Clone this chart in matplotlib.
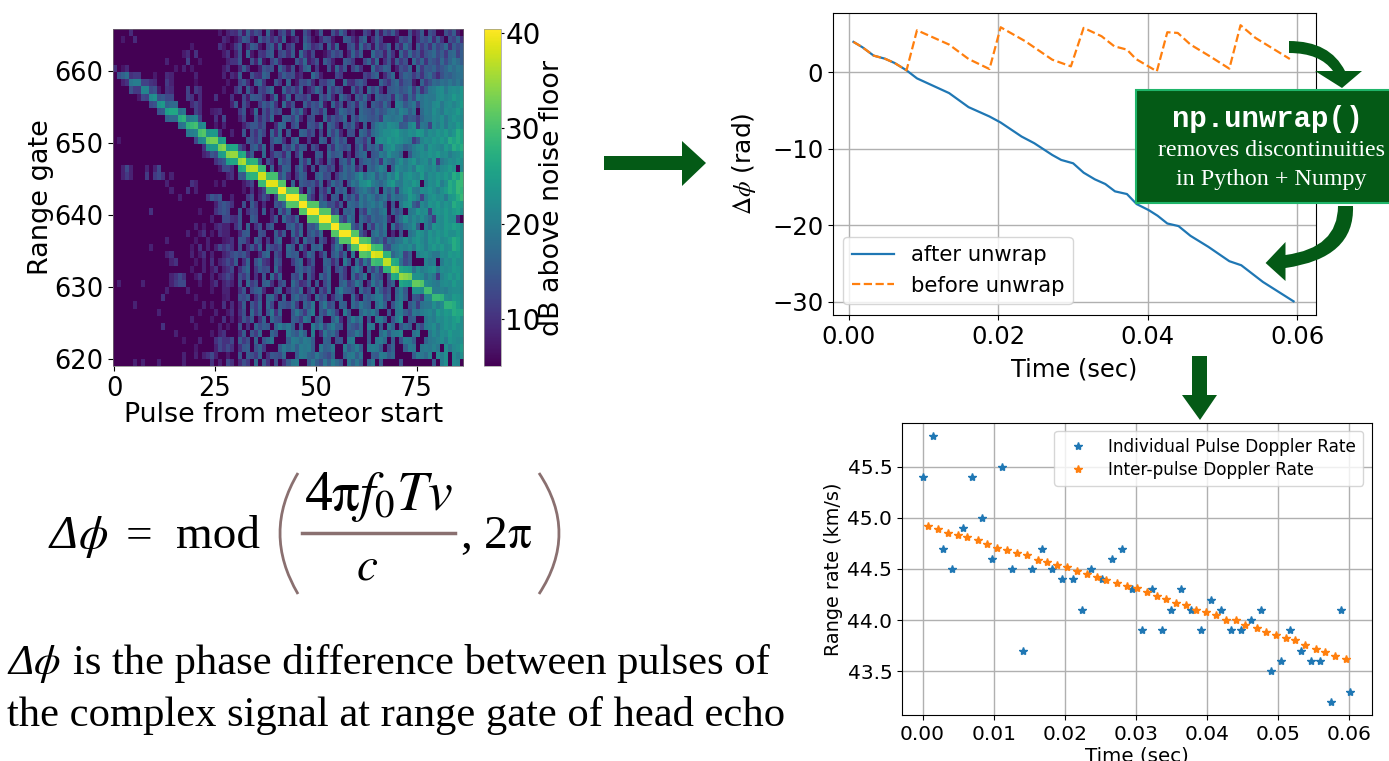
################################################################################
#
# Meteor head echo slide : range-time map, phase unwrap and range rate panels
#
################################################################################

#import#
import numpy as np
import matplotlib
matplotlib.use('Agg')
import matplotlib.pyplot as plt
from matplotlib.path import Path
from matplotlib.patches import PathPatch, Rectangle

################################################################################
# heat map data, one character per cell, base 36 level, see heat_step #

heat_rows = [
 "0000500000 0000000000 0000003046 5a3c6a80d4 07a3c00a60 3b00a5d803 00960b3a7c 500a36c0a8 00a7c30",
 "0030050000 0000000000 0000000530 26ca30c7a5 94d0360c82 05a9300cb6 2ad05c7000 3a8c06b9d5 c60a8d6",
 "0000000000 0000000003 0000006302 7b05ca309c 3d06a00eb5 7a0c4d009b 3e7a2c68d0 a5e90c7b6d 8ae5c9b",
 "0000000000 0000000350 6000000360 4a0d3076bc 08a5c0e739 0026b8a05d 7c00e9a4c6 0d7e8b5ace 9c7de8c",
 "0000000000 0004000080 0300000046 6b00a4d208 c5000b7e36 a0c9400ca7 009d5e06b3 c7a0e8d6ca 8e9dgec",
 "0000000000 0000030403 0000000360 05c6004b9a 0d83a05ce0 700a2d6b08 c600e79dc0 4a8d0e7cbd 9bdgegf",
 "0063000000 3005400000 4000000405 3c00a65db0 07c9a3500e a400097000 0086bd05ae 09dc7b6ce9 5adceff",
 "0046900306 5007400000 2000000030 08b50ce600 b70d03a9c5 087bd00e65 ac8000d96c e7bc30d7ae dfegege",
 "0000a70750 9306500080 7500000300 6a0c5097be 00d7a6c048 ea0d7b900c 5a0e9d60bc dacf7e6bgh jkgjkjl",
 "0000003980 b869900086 0500060006 0093cba506 e04d0a97b0 0c8d50ea70 c9e60dbac5 fc7e9hfhgg jkijmkl",
 "0000000005 9b69900005 8500000004 b0a5007c9d 60e5a00c7b 9e30d6a09c 5eb0ca8e90 hgbeg8fhgj kgjkikm",
 "0000000000 0069b93500 8500345000 07b03e0a6c 8a00d9e40b a6d007ec9b 0ecb9dacfg eigcf0ehgk igkjkmk",
 "0000000000 0000b86960 6800060900 04900b5a6e 00dc8e509a 00e6b8ae0c 8edbac7hgf gh9cb7dggj ikgjlkj",
 "0000000000 0000006860 9040030400 0048bb7a00 5ed09c00ba 7e0db60c9d 40c0cgihkj ibcik7gf8j hkgkjmk",
 "0000000000 0000000068 9a00906004 00b0a6c80d 5e0b00dc7a 090e8d50aa 0ec7egikkl mjikjmlhkj lkmjlpn",
 "0300000000 0000000000 96b9500000 000ba7c00a ed60be0070 0db0ae9c00 cb7e0ikjmk lkih7bikjl kmkpnpn",
 "0000000000 0000000000 0069b96000 0a50bd6e09 00c8e6cb0a 700c6eb9c0 9e5dbe7ijl hgcehjkglk jimkpnp",
 "0000000000 0000000000 0046b98600 05a7c00e06 ba5d07e000 cb0eacd060 ade0bchfkh gd0bhikjlk mjkhjkm",
 "0000000000 0000000000 0000069b90 3b9d05c0a6 0e9b00d7e0 a50c70bd7f 0adebe6hec hkgjlhjkgl 7gikjlk",
 "0049400040 4900000000 0000003996 00a6be700d 05dc09e60a 0cb7a07ebe 5a0ecfig0d kihjgmljik gjkmk0j",
 "0047400070 7960400000 0000000046 0cb08e0a50 b9e607db00 ce9a07cebd gkehicgejh mgkljimhkj lkmkpnr",
 "0000000000 0004000006 4000030400 0036906a70 0e50d0ca9b 6d07eac0bg ejkmhfdgkm hgkjmk0hkj mhkpnrr",
 "0000000000 0000400060 4000000000 0030604800 6d04bc70e9 0a6e0dbe07 cfhebg0fcg 7hkmhgkjlj hkmpnrq",
 "0000000000 0000004000 0006b9b004 0007a05a60 8c60ae0db6 0c70cb0e9d 7gdhfbeg9g efhmkh8hkl jkglmpr",
 "0000000000 0000000000 0000049b96 00a0c70500 b9d00a7ce0 0de9a5b0ed bgdfhehc0b 0gklc9jhlk mjlkpnm",
 "0000000006 0000000000 0300069b90 0b06a90c05 0d7e00bcb9 e60c8b0dce 0b7gdcfh0d 9c0ghljk8k lkmkmnk",
 "0000000000 0000000000 0000400996 5b00ca0005 b0e97d00c9 dc6a0eb7gd 0eb8ecdf50 bfkgjhkhe7 kjmkk60",
 "0000000000 0000000000 4030046440 6b0d06a09c 000bd7c0ba e50c9eb0gc 8e0d7fcg0f 7bfhkc0hel kjmlnmk",
 "0000000000 0000000040 0360306440 05bc00a900 c5b0d7e0ad 9e007deb09 gb60egcf05 0b0fhlkhlj lkmkkmk",
 "0000000000 0004000000 3004000346 0ba50c9070 be006c0e9a 0b705e9g0c d9e0dbe7ec fgkhkljhlk mjkmpnk",
 "0000000004 0000000003 0604049696 0a06b5d0c9 7a0eb0e60d ce009gc0e7 0b8gedba9g hjikglkhkm kmjkpnk",
 "0000000000 0004600004 0360400469 b9b6005ce0 a70dbc06eb 06c0be7d0g 0c9ebgc0ad gi8c0hjkig gkjmlmk",
 "0000000000 0000460000 3040604696 c06d0ae750 c9007ce06b 00dc5a0hb0 e7gbc0e0dg 9f9c000igh 0hkjmkk",
 "0000000000 0000000003 0040360469 06be07c9a0 e6000bd9c7 00be09c70d hc0d8e7gc0 db60fkhikl gkjkmlk",
 "0000000000 0000469600 3600404696 0a7c060b0e 5d00a8e0c6 0d9e00b70e 7cg0eb90ad 0geb0hjfig 7ikmkmj",
 "0400000400 0000479900 0300360464 0b0e7a0cd6 08b0ea57c0 b09d00ce7a gd07gbe09d 0b9c0ghjdh gjkjmkk",
 "0000000000 0004000040 0000300440 06b09cd500 ad06b9e07c 0a6e0dhcb9 0e9b0gc7a0 dhb0e7gh00 gihjkkj",
 "0000000000 0060000000 3000000340 0a9c06b0de 70d0ce9b60 e9b06cd00e 60dbegh9c0 ehc0ba60d0 ghkjmlk",
 "0000040000 0000000000 0040300605 05c0b7d0e9 0cb9e70dag 0cg9b0dc0e bgdc0ehc0a gi0be7fggk hjkljmk",
 "0000000000 0400000000 0300040036 06a0e7c0bg 6d00bgc7eh 0c9gd70hb0 0dgehc00b0 ghc9gfhijh mkmlpnp",
 "0000000000 0000000004 0000300604 04b7c06d0e a900cb7ge0 ad00cg60ch dg0b0ghc0a gk0bc00gih kjlkmnk",
 "0000000000 0060000000 3000004030 0a060d9cb0 dhegc0b00h cg9ehcb0db 9e0hg0c0gd 0bec0d9hik gjlkmkk",
 "0000000000 0000040000 0000304600 05c0b7e00d a00gdbgc0h 06gce900bc gd0c00ehbg hi00fh00gj hkjmkkl",
 "0000000000 0000000300 0400069669 0c7a0d0beg 000chgehgc 00dc0ab0gh 000c0ghe0c 0ahgc00dgh ikhlkjk",
 "0000000000 0000000000 3000049696 06bc0ad700 0cgegchghc 0gcdg00hbe hc0ghgc09d 00chg0ghgi g0kgjkm",
 "0000000000 0000000400 4046940030 0b0ca7d06b a9e00chgdc gdb9e00dgh cg00cbhgce 0000chgei0 jhk0jhk",
 "0000040400 0400000400 0000604096 05a70e0c60 a06cgh00cg c9gcheb0gc gc0dg0c000 0a0000000c 0hk0ji0",
]

# dB per level in heat_rows, and the floor #
heat_step = 0.88
heat_floor = 5.0

# row of the echo in each pulse, counted from the top #
ridge_rows = [5, 6, 6, 6, 7, 7, 7, 8, 8, 9, 9, 10, 10, 11, 11, 11, 12, 12, 13, 13, 13,
              14, 14, 15, 15, 15, 16, 16, 17, 17, 17, 18, 18, 19, 19, 19, 20, 20, 21, 21, 21,
              22, 22, 23, 23, 23, 24, 24, 25, 25, 25, 26, 26, 26, 27, 27, 28, 28, 28, 29, 29,
              30, 30, 30, 31, 31, 31, 32, 32, 33, 33, 34, 34, 34, 35, 35, 35, 36, 36, 37, 37, 37,
              38, 38, 38, 39, 39]

# echo power in each pulse, dB #
ridge_db = [10, 14, 16, 18, 19, 20, 20, 21, 21, 22, 23, 23, 24, 25, 26, 26, 27, 28, 28, 29, 30,
            30, 31, 32, 33, 33, 33, 34, 34, 35, 35, 35, 36, 36, 37, 37, 38, 38, 39, 39, 39,
            40, 40, 40, 40, 40, 40, 40, 40, 40, 40, 40, 40, 40, 40, 40, 40, 40, 40, 40, 40,
            40, 40, 39, 39, 38, 38, 37, 37, 36, 35, 35, 34, 33, 32, 32, 31, 30, 30, 29, 29, 28,
            28, 28, 27, 26, 26]

################################################################################
# phase data #

before_t = [0.0006, 0.0018, 0.0033, 0.0048, 0.0061, 0.0077, 0.0091, 0.0134, 0.0160, 0.0188,
            0.0203, 0.0236, 0.0272, 0.0297, 0.0314, 0.0338, 0.0355, 0.0372, 0.0384, 0.0412,
            0.0426, 0.0440, 0.0457, 0.0483, 0.0509, 0.0524, 0.0544, 0.0590]
before_phase = [3.93, 3.23, 2.14, 1.74, 1.18, 0.22, 5.45, 3.58, 1.70, 0.39,
                5.84, 4.01, 1.61, 0.74, 5.76, 4.67, 3.36, 2.92, 1.70, 0.09,
                5.19, 5.10, 3.58, 2.05, 0.44, 6.11, 4.45, 1.70]

after_t = [0.0006, 0.0018, 0.0033, 0.0048, 0.0061, 0.0077, 0.0091, 0.0134, 0.0160, 0.0188,
           0.0203, 0.0231, 0.0248, 0.0272, 0.0284, 0.0300, 0.0314, 0.0329, 0.0343, 0.0356,
           0.0372, 0.0385, 0.0401, 0.0413, 0.0426, 0.0441, 0.0457, 0.0481, 0.0509, 0.0525,
           0.0554, 0.0595]
after_phase = [3.93, 3.23, 2.14, 1.74, 1.18, 0.22, -0.83, -2.75, -4.58, -5.80,
               -6.59, -8.42, -9.29, -10.82, -11.47, -11.91, -13.13, -14.00, -14.61, -15.57,
               -15.92, -17.23, -18.01, -18.75, -19.76, -20.10, -21.37, -22.81, -24.68, -25.21,
               -27.39, -29.92]

################################################################################
# range rate data #

pulse_t = [0.0000, 0.0015, 0.0029, 0.0042, 0.0057, 0.0070, 0.0084, 0.0098, 0.0112, 0.0126,
           0.0141, 0.0154, 0.0168, 0.0182, 0.0196, 0.0211, 0.0224, 0.0237, 0.0252, 0.0266,
           0.0280, 0.0295, 0.0308, 0.0322, 0.0336, 0.0350, 0.0364, 0.0378, 0.0392, 0.0405,
           0.0420, 0.0433, 0.0448, 0.0462, 0.0476, 0.0490, 0.0504, 0.0517, 0.0532, 0.0546,
           0.0559, 0.0574, 0.0588, 0.0601]
pulse_rate = [45.4, 45.8, 44.7, 44.5, 44.9, 45.4, 45.0, 44.6, 45.5, 44.5,
              43.7, 44.5, 44.7, 44.5, 44.4, 44.4, 44.1, 44.5, 44.4, 44.6,
              44.7, 44.3, 43.9, 44.3, 43.9, 44.1, 44.3, 44.1, 43.9, 44.2,
              44.1, 43.9, 43.9, 44.0, 44.1, 43.5, 43.6, 43.9, 43.7, 43.6,
              43.6, 43.2, 44.1, 43.3]

inter_t = [0.00075, 0.0021, 0.0036, 0.0050, 0.0063, 0.0078, 0.0091, 0.0105, 0.0119, 0.0133,
           0.0147, 0.0162, 0.0175, 0.0189, 0.0203, 0.0217, 0.0231, 0.0245, 0.0258, 0.0273,
           0.0288, 0.0301, 0.0315, 0.0329, 0.0342, 0.0357, 0.0371, 0.0385, 0.0399, 0.0413,
           0.0426, 0.0441, 0.0454, 0.0470, 0.0483, 0.0497, 0.0511, 0.0524, 0.0538, 0.0553,
           0.0566, 0.0580, 0.0595]
inter_rate = [44.92, 44.89, 44.85, 44.83, 44.81, 44.78, 44.74, 44.71, 44.69, 44.66,
              44.64, 44.59, 44.57, 44.54, 44.52, 44.48, 44.45, 44.42, 44.39, 44.36,
              44.33, 44.31, 44.27, 44.24, 44.21, 44.17, 44.15, 44.10, 44.08, 44.05,
              44.00, 44.00, 43.95, 43.92, 43.88, 43.85, 43.82, 43.80, 43.76, 43.72,
              43.69, 43.65, 43.62]

################################################################################
# base parameter #

W, H = 1389, 761
green = '#045a16'
paren = '#8a7070'
plt.rcParams['mathtext.fontset'] = 'stix'

def make_axes(left, top, right, bottom):
  return fig.add_axes([left/W, 1-bottom/H, (right-left)/W, (bottom-top)/H])

fig = plt.figure(figsize=(W/100, H/100), dpi=100)

################################################################################
# range-time map #

heat = np.zeros((47, 87))
for i, row in enumerate(heat_rows):
  cells = row.replace(' ', '').ljust(87, '0')[:87]
  heat[i] = [heat_floor+heat_step*int(c, 36) for c in cells]
for c in range(87):
  r = ridge_rows[c]
  heat[r, c] = ridge_db[c]
  heat[r+1, c] = max(heat[r+1, c], ridge_db[c]-9)
  heat[r-1, c] = max(heat[r-1, c], ridge_db[c]-9)

ax1 = make_axes(113, 29, 463, 366)
im = ax1.imshow(heat, cmap='viridis', vmin=5.1, vmax=40.4, aspect='auto',
                interpolation='nearest', extent=[-0.25, 86.5, 619.0, 665.9])
ax1.set_xticks([0, 25, 50, 75])
ax1.set_yticks([620, 630, 640, 650, 660])
ax1.tick_params(labelsize=18.5)
ax1.set_xlabel('Pulse from meteor start', fontsize=19.4, labelpad=0, x=0.486)
ax1.set_ylabel('Range gate', fontsize=19.5, labelpad=0)
for s in ax1.spines.values():
  s.set_linewidth(0.5)
  s.set_color('#777777')

cax = make_axes(484, 29, 501, 366)
cb = fig.colorbar(im, cax=cax)
cb.set_ticks([10, 20, 30, 40])
cb.ax.tick_params(labelsize=20, pad=1, length=2)
cb.set_label('dB above noise floor', fontsize=19.4, labelpad=-1)
cb.outline.set_linewidth(0.5)
cb.outline.set_edgecolor('#999999')

################################################################################
# phase panel #

ax2 = make_axes(833, 13, 1316, 315)
ax2.plot(after_t, after_phase, color='C0', lw=1.6, label='after unwrap')
ax2.plot(before_t, before_phase, color='C1', lw=1.6, ls='--', label='before unwrap')
ax2.set_xlim(-0.00214, 0.0625)
ax2.set_ylim(-31.7, 7.7)
ax2.set_xticks([0, 0.02, 0.04, 0.06])
ax2.set_xticklabels(['0.00', '0.02', '0.04', '0.06'])
ax2.set_yticks([-30, -20, -10, 0])
ax2.set_yticklabels(['\u221230', '\u221220', '\u221210', '0'])
ax2.tick_params(labelsize=17.5)
ax2.grid(True, lw=1.0)
ax2.set_xlabel('Time (sec)', fontsize=17.4, labelpad=6)
ax2.set_ylabel(r'$\Delta\phi$ (rad)', fontsize=18, labelpad=10)
ax2.legend(loc='lower left', bbox_to_anchor=(0.021, 0.036), borderaxespad=0, fontsize=15.2)

################################################################################
# range rate panel #

ax3 = make_axes(902, 423, 1372, 715)
ax3.plot(pulse_t, pulse_rate, ls='none', marker='*', ms=6, color='C0', label='Individual Pulse Doppler Rate')
ax3.plot(inter_t, inter_rate, ls='none', marker='*', ms=6, color='C1', label='Inter-pulse Doppler Rate')
ax3.set_xlim(-0.0029, 0.0632)
ax3.set_ylim(43.07, 45.93)
ax3.set_xticks([0, 0.01, 0.02, 0.03, 0.04, 0.05, 0.06])
ax3.set_xticklabels(['0.00', '0.01', '0.02', '0.03', '0.04', '0.05', '0.06'])
ax3.set_yticks([43.5, 44, 44.5, 45, 45.5])
ax3.set_yticklabels(['43.5', '44.0', '44.5', '45.0', '45.5'])
ax3.tick_params(labelsize=14.5)
ax3.grid(True, lw=1.0)
ax3.set_xlabel('Time (sec)', fontsize=14.3, labelpad=2)
ax3.set_ylabel('Range rate (km/s)', fontsize=13.9, labelpad=3)
ax3.legend(loc='upper right', bbox_to_anchor=(0.981, 0.973), borderaxespad=0, fontsize=12.2, labelspacing=0.3)

################################################################################
# slide overlay in pixel coordinates #

over = fig.add_axes([0, 0, 1, 1], facecolor='none')
over.set_xlim(0, W)
over.set_ylim(H, 0)
over.axis('off')

def shape(points, color=green):
  codes = [c for c, p in points]
  verts = [p for c, p in points]
  over.add_patch(PathPatch(Path(verts, codes), fc=color, ec='none'))

M, L, Q, X = Path.MOVETO, Path.LINETO, Path.CURVE3, Path.CLOSEPOLY

# straight arrows #
shape([(M, (604, 156)), (L, (682, 156)), (L, (682, 141)), (L, (706, 163)), (L, (682, 186)),
       (L, (682, 170)), (L, (604, 170)), (X, (604, 156))])
shape([(M, (1192, 356)), (L, (1207, 356)), (L, (1207, 395)), (L, (1217, 395)), (L, (1200, 420)),
       (L, (1182, 395)), (L, (1192, 395)), (X, (1192, 356))])

# curved arrows #
shape([(M, (1289, 41)), (Q, (1330, 41)), (Q, (1345, 71)), (L, (1362, 71)), (L, (1342, 88)),
       (L, (1315, 71)), (L, (1333, 71)), (Q, (1320, 53)), (Q, (1289, 53)), (X, (1289, 41))])
shape([(M, (1353, 206)), (Q, (1355, 258)), (Q, (1285.5, 268)), (L, (1285.5, 281)), (L, (1265.6, 263)),
       (L, (1285.5, 242)), (L, (1285.5, 255)), (Q, (1338, 248)), (Q, (1338, 206)), (X, (1353, 206))])

# text box #
over.add_patch(Rectangle((1136, 90), 262, 113, fc=green, ec='#1fb56a', lw=1.5))
over.text(1268, 119, 'np.unwrap()', family='Liberation Mono', weight='bold', fontsize=20.9,
          color='white', ha='center', va='center')
over.text(1271, 151, 'removes discontinuities', family='Liberation Serif', fontsize=17.3,
          color='white', ha='center', va='center')
over.text(1271, 180, 'in Python + Numpy', family='Liberation Serif', fontsize=17.3,
          color='white', ha='center', va='center')

# equation #
fs = 34
over.text(50, 548, '\u0394', fontsize=fs, family='Liberation Serif', style='italic', va='baseline')
over.text(78, 548, r'$\phi$', fontsize=fs, va='baseline')
over.text(126, 548, '=', fontsize=fs, family='Liberation Serif', va='baseline')
over.text(176, 548, 'mod', fontsize=fs, family='Liberation Serif', va='baseline')
over.text(304, 510, r'4$\mathrm{\pi}f_0Tv$', fontsize=40, family='Liberation Serif', va='baseline')
over.text(367, 580, r'$c$', fontsize=fs, family='Liberation Serif', va='baseline', ha='center')
over.text(460, 548, r', 2$\mathrm{\pi}$', fontsize=fs, family='Liberation Serif', va='baseline')
over.plot([302, 455], [533, 533], color=paren, lw=2.5)
for top, mid, bottom in [((298, 473), (262, 533), (298, 594)), ((539, 473), (579, 533), (539, 594))]:
  over.add_patch(PathPatch(Path([top, mid, bottom], [M, Q, Q]), fc='none', ec=paren, lw=2))

# caption #
cap = 30.7
over.text(8, 674, '\u0394', fontsize=cap, family='Liberation Serif', style='italic', va='baseline')
over.text(33, 674, r'$\phi$', fontsize=cap, va='baseline')
over.text(73, 674, 'is the phase difference between pulses of', fontsize=cap,
          family='Liberation Serif', va='baseline')
over.text(7, 726, 'the complex signal at range gate of head echo', fontsize=cap,
          family='Liberation Serif', va='baseline')

################################################################################
# save #
fig.savefig('out.png', dpi=100)
plt.close()
################################################################################
